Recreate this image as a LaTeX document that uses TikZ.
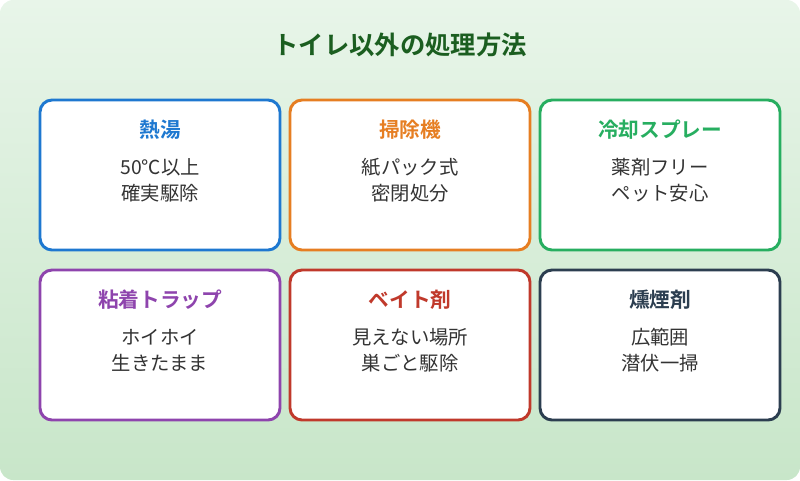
\documentclass[tikz,border=0pt]{standalone}
\usepackage{fontspec}
\setmainfont{Noto Sans CJK JP}[BoldFont={Noto Sans CJK JP Bold}]
\definecolor{cA}{HTML}{1E78D0}
\definecolor{cB}{HTML}{E67E22}
\definecolor{cC}{HTML}{27AE60}
\definecolor{cD}{HTML}{8E44AD}
\definecolor{cE}{HTML}{C0392B}
\definecolor{cF}{HTML}{2C3E50}
\definecolor{ttl}{HTML}{1B5E20}
\definecolor{body}{HTML}{333333}
\definecolor{bgA}{HTML}{E8F5E9}
\definecolor{bgB}{HTML}{C8E6C9}
\begin{document}
\begin{tikzpicture}[x=0.75pt,y=-0.75pt,
  box/.style={draw=#1,line width=2.2pt,rounded corners=9pt,fill=white},
  hd/.style={font=\fontsize{15.5}{18}\selectfont\bfseries,text=#1},
  bd/.style={font=\fontsize{14.5}{19.5}\selectfont,text=body,align=center}]
\useasboundingbox (0,0) rectangle (800,480);
\shade[shading angle=135,top color=bgA,bottom color=bgB,rounded corners=10pt] (0,0) rectangle (800,480);
\node[font=\fontsize{19}{22}\selectfont\bfseries,text=ttl] (title) at (400,45) {トイレ以外の処理方法};
\foreach \n/\x/\y/\c/\h/\b in {
 a/160/175/cA/熱湯/{50℃以上\\確実駆除},
 b/410/175/cB/掃除機/{紙パック式\\密閉処分},
 c/660/175/cC/冷却スプレー/{薬剤フリー\\ペット安心},
 d/160/345/cD/粘着トラップ/{ホイホイ\\生きたまま},
 e/410/345/cE/ベイト剤/{見えない場所\\巣ごと駆除},
 f/660/345/cF/燻煙剤/{広範囲\\潜伏一掃}}{
  \draw[box=\c] (\x-120,\y-75) rectangle (\x+120,\y+75);
  \node[hd=\c] (\n h) at (\x,\y-45) {\h};
  \node[bd] (\n b) at (\x,\y+5) {\b};
}
\end{tikzpicture}
\end{document}
